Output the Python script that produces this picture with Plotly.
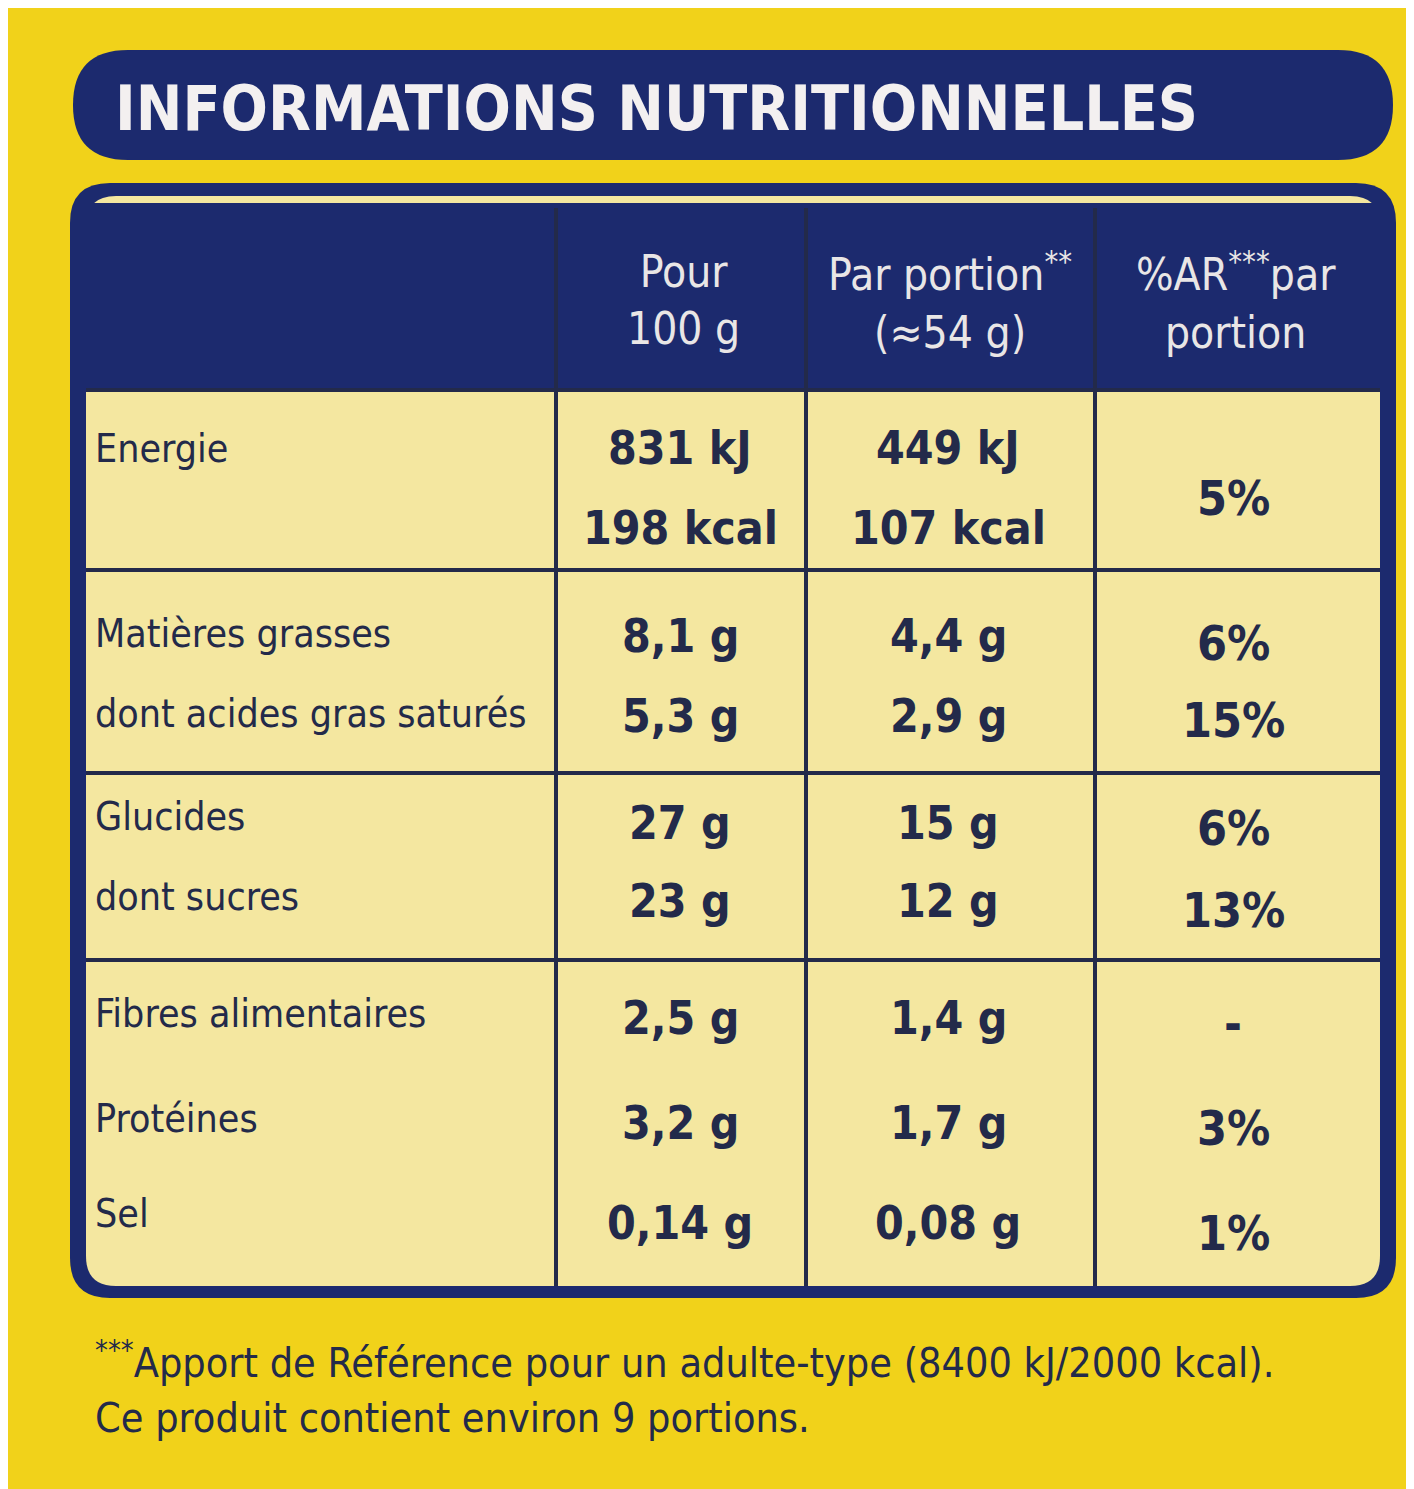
import plotly.graph_objects as go

title = "INFORMATIONS NUTRITIONNELLES"
headers = ["Pour<br>100 g", "Par portion<sup>**</sup><br>(≈54 g)", "%AR<sup>***</sup>par<br>portion"]
labels = ["Energie", "", "Matières grasses", "dont acides gras saturés", "Glucides", "dont sucres",
          "Fibres alimentaires", "Protéines", "Sel"]
per100 = ["831 kJ", "198 kcal", "8,1 g", "5,3 g", "27 g", "23 g", "2,5 g", "3,2 g", "0,14 g"]
perportion = ["449 kJ", "107 kcal", "4,4 g", "2,9 g", "15 g", "12 g", "1,4 g", "1,7 g", "0,08 g"]
ar = ["", "5%", "6%", "15%", "6%", "13%", "-", "3%", "1%"]
footnotes = ["<sup>***</sup>Apport de Référence pour un adulte-type (8400 kJ/2000 kcal).",
             "Ce produit contient environ 9 portions."]

W, H = 1414, 1489
NAVY = "#1c2a6e"
TXT = "#232a4a"
CREAM = "#f4e7a0"
YEL = "#f1d21a"
FONT = "DejaVu Sans Condensed, Liberation Sans Narrow, sans-serif"

def rrect(x0, y0, x1, y1, r):
    return (f"M{x0+r},{y0} L{x1-r},{y0} Q{x1},{y0} {x1},{y0+r} L{x1},{y1-r} Q{x1},{y1} {x1-r},{y1} "
            f"L{x0+r},{y1} Q{x0},{y1} {x0},{y1-r} L{x0},{y0+r} Q{x0},{y0} {x0+r},{y0} Z")

shapes = [
    dict(type="path", path=rrect(65, 42, 1385, 152, 55), fillcolor=NAVY, line=dict(width=0)),
    dict(type="path", path=rrect(62, 175, 1388, 1290, 40), fillcolor=NAVY, line=dict(width=0)),
    dict(type="path", path=rrect(78, 188, 1372, 1278, 30), fillcolor=CREAM, line=dict(width=0)),
    dict(type="rect", x0=78, y0=195, x1=1372, y1=382, fillcolor=NAVY, line=dict(width=0)),
]
for x in [548, 798, 1087]:
    shapes.append(dict(type="line", x0=x, x1=x, y0=200, y1=1278, line=dict(color=TXT, width=4)))
for y in [382, 562, 765, 952]:
    shapes.append(dict(type="line", x0=78, x1=1372, y0=y, y1=y, line=dict(color=TXT, width=4)))

ann = [dict(x=105, y=100, text=f"<b>{title}</b>", showarrow=False, xanchor="left", yanchor="middle",
            font=dict(size=62, color="#f3f0f0", family=FONT))]
for i, h in enumerate(headers):
    ann.append(dict(x=[675, 942, 1228][i], y=292, text=h, showarrow=False, xanchor="center", yanchor="middle",
                    font=dict(size=44, color="#e9e6e6", family=FONT)))

label_y = [440, None, 625, 705, 808, 888, 1005, 1110, 1205]
val_y = [440, 520, 628, 708, 815, 893, 1010, 1115, 1215]
ar_y = [None, 490, 635, 712, 820, 902, 1015, 1120, 1225]
for i in range(len(labels)):
    if labels[i]:
        ann.append(dict(x=85, y=label_y[i], text=labels[i], showarrow=False, xanchor="left", yanchor="middle",
                        font=dict(size=39, color=TXT, family=FONT)))
    for xc, v in [(672, per100[i]), (940, perportion[i])]:
        ann.append(dict(x=xc, y=val_y[i], text=f"<b>{v}</b>", showarrow=False, xanchor="center", yanchor="middle",
                        font=dict(size=46, color=TXT, family=FONT)))
    if ar[i]:
        ann.append(dict(x=1225, y=ar_y[i], text=f"<b>{ar[i]}</b>", showarrow=False, xanchor="center", yanchor="middle",
                        font=dict(size=48, color=TXT, family=FONT)))
for j, f in enumerate(footnotes):
    ann.append(dict(x=85, y=[1352, 1410][j], text=f, showarrow=False, xanchor="left", yanchor="middle",
                    font=dict(size=41, color=TXT, family=FONT)))

fig = go.Figure(go.Scatter(x=[], y=[]))
fig.update_layout(width=W, height=H, margin=dict(l=0, r=0, t=0, b=0), paper_bgcolor=YEL, plot_bgcolor=YEL,
                  xaxis=dict(range=[0, W], visible=False, fixedrange=True),
                  yaxis=dict(range=[H, 0], visible=False, fixedrange=True),
                  shapes=shapes, annotations=ann, showlegend=False)
fig.write_html("out.html")
